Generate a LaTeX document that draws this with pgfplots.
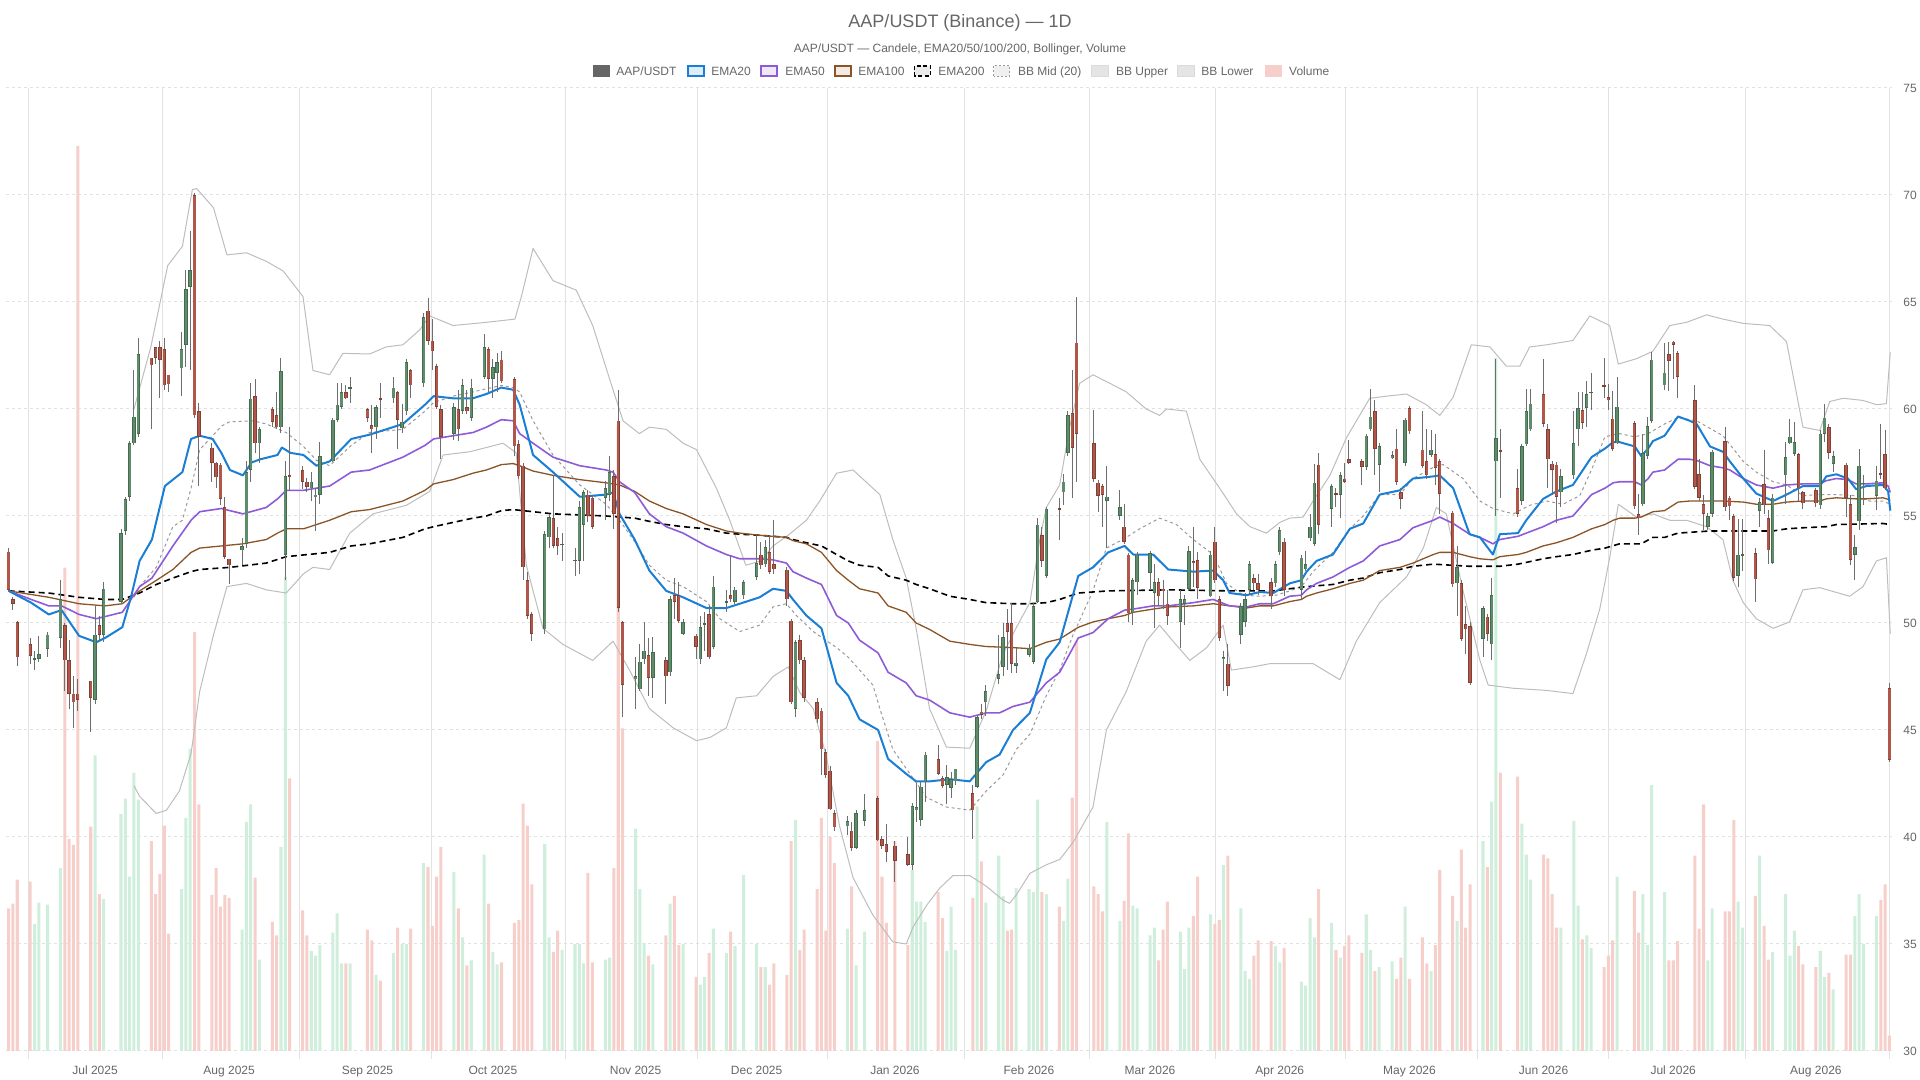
\documentclass[border=0pt]{standalone}
\usepackage{pgfplots}
\pgfplotsset{compat=1.18}
\usepackage{pgfplotstable}
\usepackage{fontspec}
\setmainfont{Liberation Sans}

\definecolor{txt}{HTML}{666666}
\definecolor{gridc}{HTML}{E2E2E2}
\definecolor{upfill}{HTML}{5F8D6B}
\definecolor{upline}{HTML}{436B4E}
\definecolor{dnfill}{HTML}{B0574A}
\definecolor{dnline}{HTML}{823F35}
\definecolor{wick}{HTML}{6E6E6E}
\definecolor{volg}{HTML}{CFEEDC}
\definecolor{volr}{HTML}{F6CFCA}
\definecolor{ema20}{HTML}{1A7FD4}
\definecolor{ema50}{HTML}{8E5BD8}
\definecolor{ema100}{HTML}{8B5426}
\definecolor{bbc}{HTML}{BDBDBD}
\definecolor{bbmid}{HTML}{999999}

\pgfplotstableread{
d o h l c v
-20 53.33 53.5 51.5 51.54 14.8
-19 51.1 51.2 50.6 50.9 15.3
-18 50.05 50.1 47.97 48.4 17.8
-15 49.0 49.3 48.1 48.47 17.6
-14 48.3 48.7 47.8 48.35 13.2
-13 48.33 49.4 48.2 48.55 15.4
-11 48.8 49.6 48.4 49.45 15.2
-8 49.3 52.0 48.85 51.1 19.0
-7 49.9 50.0 46.8 48.26 50.2
-6 48.26 49.2 46.0 46.7 22.0
-5 46.7 47.5 45.1 46.3 21.4
-4 46.7 47.4 45.9 46.4 94.0
-1 47.3 47.3 44.9 46.5 23.3
0 46.4 50.8 46.2 49.45 30.7
1 49.9 50.35 49.2 49.45 16.3
2 49.45 51.9 49.1 51.6 15.8
6 51.0 54.4 50.9 54.2 24.6
7 54.3 55.9 54.1 55.8 26.2
8 55.9 58.5 55.7 58.4 18.1
9 58.4 61.8 58.3 59.65 28.9
10 58.85 63.3 58.7 62.57 26.1
13 62.4 62.4 59.05 62.05 21.8
14 62.9 62.9 62.1 62.4 16.3
15 62.9 63.2 60.5 62.3 18.4
16 62.8 63.3 60.9 61.1 23.4
17 61.6 61.6 60.8 61.15 12.2
20 61.9 63.6 60.6 62.8 16.8
21 63.0 66.5 61.97 65.6 24.2
22 65.7 68.3 61.8 66.5 31.4
23 70.0 70.1 59.6 59.7 43.5
24 59.9 60.3 56.4 58.7 25.6
27 58.2 58.4 56.6 57.5 16.2
28 57.5 57.5 56.3 56.8 19.0
29 57.4 57.5 55.5 55.8 15.0
30 55.4 55.9 53.0 53.1 16.2
31 53.0 53.0 51.8 52.7 15.9
34 53.4 53.97 52.7 53.6 12.6
35 53.7 57.56 53.5 57.06 23.8
36 57.15 61.2 56.6 60.48 25.6
37 60.6 61.4 57.95 58.4 18.0
38 58.4 59.15 57.5 59.05 9.5
41 60.0 60.1 59.15 59.4 13.4
42 59.7 60.8 59.05 59.15 12.0
43 59.15 62.36 58.9 61.77 21.2
44 53.2 57.56 51.99 56.85 49.2
45 56.9 59.14 56.16 56.8 28.3
48 57.15 57.35 56.25 56.6 14.6
49 56.6 56.77 56.1 56.37 12.0
50 56.3 57.06 55.7 56.6 10.4
51 55.9 56.3 54.3 56.0 9.9
52 56.0 58.45 55.57 57.8 11.0
55 57.55 59.6 57.5 59.5 12.3
56 59.5 61.2 59.4 60.2 14.3
57 60.1 61.2 60.0 60.8 9.1
58 60.8 61.1 60.45 60.5 9.1
59 60.95 61.5 60.3 61.0 9.1
63 60.0 60.05 59.4 59.6 12.6
64 59.25 60.2 57.95 59.05 11.5
65 59.15 60.2 58.6 60.1 7.9
66 60.5 61.2 59.6 60.45 7.3
69 60.5 61.5 60.3 61.0 10.2
70 60.8 60.85 58.15 59.5 12.8
71 59.1 60.25 58.9 59.4 11.1
72 59.9 62.35 59.7 62.2 11.1
73 61.8 61.85 60.5 61.1 12.7
76 61.2 64.5 61.05 64.3 19.5
77 64.6 65.2 63.0 63.2 19.1
78 63.2 64.2 61.8 62.7 13.0
79 62.0 62.1 60.0 60.1 18.1
80 60.0 60.2 57.65 58.7 21.2
83 58.85 60.3 58.55 60.1 18.6
84 60.0 60.9 58.5 59.05 14.8
85 59.9 61.4 59.75 61.1 11.8
86 60.1 60.9 59.75 59.9 8.9
87 59.6 61.4 59.45 61.0 9.4
90 61.5 63.5 61.4 62.9 20.4
91 62.8 62.9 60.8 61.4 15.3
92 61.4 62.35 60.5 61.95 10.3
93 61.7 62.6 60.8 62.2 9.0
94 62.3 62.7 61.2 61.3 9.2
97 61.4 61.5 57.8 58.25 13.3
98 58.35 58.55 56.75 56.85 13.6
99 57.35 57.5 51.99 52.6 25.7
100 51.99 52.4 50.2 50.35 23.4
101 50.4 50.5 49.15 49.5 17.3
104 49.7 54.3 49.5 54.15 21.5
105 54.0 55.1 53.5 54.95 11.8
106 54.9 56.9 53.5 53.6 10.3
107 53.95 54.5 53.2 53.6 12.5
108 53.65 54.2 52.9 53.7 10.5
111 52.9 53.5 52.2 52.95 11.1
112 52.9 55.7 52.3 55.4 11.1
113 54.6 56.2 52.9 56.1 9.1
114 56.0 56.2 54.7 55.0 18.5
115 55.85 56.0 54.4 54.5 9.2
118 55.85 56.65 54.8 56.3 9.5
119 56.0 57.8 55.7 57.05 9.7
120 56.85 57.15 54.4 55.1 19.0
121 59.45 60.9 50.5 50.7 65.0
122 50.05 50.1 45.6 47.1 33.5
125 47.4 48.4 46.0 47.5 23.1
126 46.9 49.0 46.8 48.2 16.8
127 48.3 50.05 48.1 48.7 11.2
128 48.5 49.3 46.6 47.45 9.9
129 47.45 49.35 46.5 48.65 9.0
132 48.25 48.4 46.2 47.5 12.0
133 47.7 51.25 47.5 51.1 15.3
134 51.3 52.1 50.2 51.0 16.1
135 51.3 51.9 50.0 50.1 11.0
136 49.5 50.2 49.45 50.05 11.1
139 49.4 49.5 48.3 48.9 7.7
140 48.3 50.35 48.1 49.8 6.9
141 49.95 50.5 48.7 50.0 7.7
142 50.4 50.8 48.3 48.4 10.2
143 48.9 52.2 48.8 51.7 12.7
146 50.95 51.55 50.5 51.0 10.2
147 51.3 53.2 51.0 51.1 12.4
148 51.0 51.7 50.9 51.55 10.9
150 51.3 52.0 51.1 51.9 18.3
153 52.15 54.1 52.0 52.8 11.1
154 53.2 53.8 52.5 52.7 8.7
155 52.75 53.9 52.6 53.55 8.7
156 53.3 54.1 52.3 52.4 6.9
157 52.75 54.8 52.3 52.5 9.1
160 52.5 52.6 50.8 51.1 7.9
161 50.1 50.2 46.2 46.3 21.8
162 46.0 49.2 45.6 49.1 24.0
163 49.2 49.45 48.1 48.25 10.5
164 48.25 48.4 46.3 46.5 12.6
167 46.3 46.5 45.35 45.5 16.8
168 45.9 46.05 42.9 44.1 24.2
169 43.95 44.1 42.75 42.9 12.5
170 43.1 43.3 41.25 41.3 22.2
171 41.1 41.25 40.3 40.45 19.5
174 40.5 41.0 40.1 40.75 12.7
175 40.3 40.7 39.35 39.5 17.1
176 39.5 41.25 39.45 41.1 8.9
178 40.75 42.0 40.5 41.25 12.4
181 41.8 41.9 39.8 39.85 32.2
182 39.9 40.05 39.45 39.6 18.1
183 39.65 40.6 38.85 39.3 13.3
185 39.6 39.8 37.9 38.9 21.8
188 39.2 40.0 38.65 38.7 11.0
189 38.7 41.6 38.45 41.45 18.8
190 41.25 42.5 40.7 41.4 15.5
191 40.8 42.6 40.5 42.35 15.5
192 42.6 43.95 41.65 43.85 13.4
195 43.65 44.3 42.9 42.95 16.5
196 42.75 42.85 42.3 42.4 13.8
197 42.45 43.35 41.55 42.8 10.4
198 42.3 43.05 41.8 42.7 15.0
199 42.6 43.2 42.45 43.2 10.5
203 42.05 42.45 39.9 41.25 15.9
204 42.35 45.7 42.3 45.6 25.4
205 45.85 46.2 45.5 45.7 19.7
206 46.3 47.1 45.65 46.8 15.4
209 47.4 49.45 47.15 47.6 20.3
210 47.95 50.0 47.5 49.35 16.1
211 50.0 50.65 47.8 49.6 12.5
212 50.0 50.95 47.65 48.1 12.6
213 48.0 48.85 47.65 48.15 16.9
216 48.5 49.0 48.4 48.8 16.8
217 48.2 50.95 48.1 50.8 16.5
218 51.0 54.9 50.95 54.6 26.1
219 54.1 54.5 52.6 52.9 16.5
220 52.2 55.4 52.1 55.35 16.3
223 55.35 55.85 53.9 55.3 15.0
224 56.1 56.97 55.5 56.6 13.5
225 57.95 59.9 57.8 59.7 17.9
226 59.8 61.8 55.85 58.2 26.3
227 63.1 65.25 56.6 58.85 42.6
231 58.4 59.95 56.6 56.75 17.1
232 56.55 56.7 55.2 55.95 16.3
233 56.4 56.5 54.5 56.0 14.5
234 55.7 57.35 53.5 55.9 23.8
237 55.0 56.2 54.8 55.4 13.5
238 54.5 55.55 53.7 53.8 15.6
239 53.2 53.25 50.05 50.45 22.6
240 50.5 52.1 49.9 52.0 15.1
241 51.9 53.3 51.3 53.2 14.8
244 52.35 53.35 51.55 53.25 12.0
245 51.4 52.75 49.75 51.9 12.8
246 51.9 52.1 50.8 51.25 9.4
247 51.6 52.0 50.65 51.5 12.6
248 50.9 51.55 49.9 50.35 15.5
251 50.05 51.55 48.85 51.1 12.4
252 50.9 51.3 49.9 51.1 8.5
253 51.6 53.6 51.5 53.35 12.8
254 52.9 54.5 51.7 52.8 14.0
255 52.95 53.3 51.1 51.65 18.1
258 51.25 53.35 51.2 53.2 14.2
259 53.8 54.5 51.85 52.0 13.2
260 51.1 51.25 49.15 49.3 13.6
261 48.3 48.7 46.8 48.4 19.3
262 48.1 49.0 46.6 47.05 20.3
265 49.45 50.95 49.0 50.8 14.8
266 50.05 51.4 49.8 51.1 8.3
267 51.55 52.9 51.3 52.75 7.5
268 52.1 52.3 51.55 51.85 9.9
269 51.85 52.3 51.3 51.55 11.5
272 51.9 52.1 50.65 51.25 11.4
273 51.85 52.9 51.7 52.75 10.9
274 53.3 54.5 53.2 54.35 9.2
275 53.8 53.95 51.25 51.55 10.7
279 51.55 53.2 51.1 53.05 7.2
280 52.5 53.35 52.45 52.75 6.8
281 53.95 55.1 53.85 54.5 13.8
282 53.7 57.45 53.6 56.55 11.8
283 57.4 57.95 54.15 54.6 16.8
286 55.35 56.5 54.5 56.4 13.3
287 56.05 56.3 55.4 56.0 10.5
288 56.0 57.05 54.9 56.9 9.7
289 56.75 57.5 56.55 56.6 10.9
290 57.65 58.55 57.45 57.5 12.0
293 57.55 57.65 56.45 57.3 10.2
294 57.3 58.85 57.15 58.75 14.2
295 59.05 60.95 58.95 59.65 10.5
296 59.9 60.4 56.9 58.15 8.3
297 57.4 58.4 56.1 58.25 8.7
300 57.7 58.05 57.65 57.85 9.3
301 58.15 59.05 56.45 56.6 7.5
302 56.1 56.3 55.35 55.8 9.7
303 57.5 59.6 57.35 59.5 15.0
304 60.05 60.15 58.85 58.95 7.5
307 58.1 59.9 57.25 57.35 11.8
308 57.55 59.05 56.75 56.9 9.1
309 57.85 59.0 57.75 58.1 8.3
310 57.9 58.85 56.45 57.25 11.0
311 57.55 57.65 55.1 56.05 18.8
314 55.15 55.25 51.7 51.8 16.1
315 51.85 53.6 50.35 52.6 13.5
316 51.85 52.0 49.15 49.25 20.9
317 49.95 50.8 48.55 49.7 12.8
318 49.85 50.05 47.1 47.2 17.3
321 49.25 50.8 48.4 50.7 21.8
322 50.3 50.4 49.15 49.5 19.1
323 49.0 52.1 48.25 51.3 25.9
324 57.55 62.35 55.0 58.65 72.0
325 58.05 59.05 55.85 58.0 28.9
329 56.3 57.2 54.95 55.1 28.5
330 55.7 58.35 55.5 58.25 23.6
331 58.35 60.95 58.25 59.9 20.4
332 59.05 60.95 58.95 60.25 17.8
335 60.7 62.35 59.15 59.3 20.4
336 59.05 59.3 56.3 57.65 20.0
337 57.45 57.55 56.0 57.15 16.3
338 57.4 57.5 54.65 55.9 12.8
339 56.1 57.2 55.4 56.85 12.8
342 56.9 59.9 56.75 58.4 23.9
343 59.05 60.8 58.25 60.05 15.1
344 59.95 60.8 59.05 59.35 11.6
345 60.05 61.3 59.15 60.7 12.0
346 60.75 61.7 59.95 60.8 10.7
349 61.1 62.4 60.5 61.05 8.7
350 60.55 61.15 59.95 60.4 9.9
351 59.55 60.85 58.05 58.15 11.5
352 58.4 61.5 58.35 60.1 18.1
356 59.35 59.45 55.35 55.45 16.6
357 55.1 56.05 54.1 54.9 12.3
358 55.55 58.85 55.45 57.95 16.3
359 57.8 59.65 57.65 59.2 11.0
360 59.45 62.65 59.35 62.3 27.6
363 61.1 63.1 60.9 61.7 16.5
364 62.55 63.15 60.85 62.25 9.4
365 63.15 63.2 61.4 63.0 9.4
366 62.6 62.7 60.5 61.5 11.4
370 60.4 61.1 56.25 56.35 20.3
371 56.95 57.65 55.7 55.85 12.7
372 55.55 56.0 54.35 55.1 25.6
373 54.5 55.15 54.35 55.0 9.4
374 55.1 58.1 54.95 58.0 14.8
377 58.5 59.15 55.25 55.4 14.5
378 55.85 55.95 54.8 55.45 14.5
379 55.0 55.1 51.95 52.1 24.0
380 52.2 54.85 51.7 53.2 15.5
381 53.15 54.85 52.45 53.2 12.8
384 53.25 53.5 51.0 52.05 16.1
385 55.25 55.85 54.5 55.65 20.3
386 56.5 58.1 55.1 55.5 13.0
387 54.9 55.3 52.75 53.4 9.5
388 52.8 56.05 52.75 55.85 10.3
391 56.9 58.45 55.55 57.75 16.3
392 58.4 59.55 58.35 58.7 9.9
393 57.9 59.4 57.8 58.45 12.5
394 57.9 57.95 55.7 56.3 10.9
395 56.1 56.15 55.35 55.6 9.0
398 56.2 56.3 55.4 55.6 8.7
399 55.5 59.0 55.35 58.85 10.4
400 58.85 60.25 58.45 59.6 7.7
401 59.15 59.3 57.65 57.95 8.1
402 57.45 58.05 57.05 57.8 6.4
405 57.4 57.5 54.95 55.85 10.0
406 55.55 56.0 52.7 52.95 10.0
407 53.2 54.1 52.0 53.55 14.0
408 54.75 58.15 54.35 57.35 16.3
409 56.5 56.9 55.5 56.55 11.1
412 55.95 57.35 55.3 56.65 14.0
413 57.0 59.3 56.75 56.95 15.7
414 57.9 59.0 56.2 56.3 17.3
415 46.95 47.2 43.5 43.6 1.6
}\candles

\begin{document}
\begin{tikzpicture}[x=1pt,y=1pt]
\useasboundingbox (0,0) rectangle (960,540);
\begin{axis}[
  at={(3pt,14.5pt)}, anchor=south west,
  scale only axis, width=943pt, height=481.5pt,
  xmin=-20.6, xmax=415.6, ymin=30, ymax=75,
  axis line style={draw=none},
  /pgf/number format/assume math mode=true,
  ytick={30,35,...,75},
  ytick pos=right, yticklabel pos=right,
  major tick length=0pt,
  ymajorgrids,
  major y grid style={gridc, line width=0.5pt, dash pattern=on 1.5pt off 1.5pt},
  yticklabel style={anchor=west, inner sep=0pt, xshift=5.5pt, font=\fontsize{6}{7}\selectfont, text=txt},
  xtick={0,31,63,92,125,153,185,216,244,274,304,335,365,398},
  xticklabels={Jul 2025,Aug 2025,Sep 2025,Oct 2025,Nov 2025,Dec 2025,Jan 2026,Feb 2026,Mar 2026,Apr 2026,May 2026,Jun 2026,Jul 2026,Aug 2026},
  xtick pos=bottom,
  xticklabel style={anchor=north, inner sep=0pt, yshift=-7.2pt, font=\fontsize{6}{7}\selectfont, text=txt},
  minor xtick={-15.3,15.7,47.2,77.8,108.7,139.3,169.4,201.0,230.1,259.2,289.1,319.7,350.1,381.6,414.9},
  xminorgrids,
  minor x grid style={gridc, line width=0.5pt},
  minor x tick style={gridc, line width=0.5pt},
  minor tick length=4pt,
  xtick align=outside,
]
% volume
\addplot[ybar, bar width=0.7, bar shift=0pt, fill=volg, draw=none, restrict y to domain=0:200, forget plot]
  table[x=d, y expr={ifthenelse(\thisrow{c}<\thisrow{o},-100,30+0.45*\thisrow{v})}] {\candles};
\addplot[ybar, bar width=0.7, bar shift=0pt, fill=volr, draw=none, restrict y to domain=0:200, forget plot]
  table[x=d, y expr={ifthenelse(\thisrow{c}<\thisrow{o},30+0.45*\thisrow{v},-100)}] {\candles};
% Bollinger
\addplot[bbc, line width=0.5pt, line join=round] coordinates {
(9,42.4) (10.3,41.9) (14.15,41.1) (16.5,41.25) (19.5,42.15) (22.2,43.9) (24.2,46.8) (27.4,49.45) (30.5,51.7) (35.0,51.85) (39.6,51.55) (44.2,51.4) (48.2,52.3) (50.4,52.6) (54.25,52.5) (58.9,54.2) (64.3,55.1) (72.0,55.5) (77.4,56.15) (80.5,57.85) (86.6,58.0) (94.35,58.4) (97.4,57.95) (99.74,52.7) (103.6,49.75) (108.2,49.0) (115.1,48.25) (119.8,49.15) (123.6,47.8) (128.2,46.0) (133.7,45.1) (139.1,44.5) (142.2,44.65) (146.0,45.1) (148.3,46.5) (153.0,46.6) (156.8,47.5) (160.3,47.95) (163.0,46.75) (166.1,46.0) (169.1,43.8) (172.2,40.5) (175.3,38.1) (179.9,36.35) (184.5,35.1) (187.6,35.0) (189.2,35.8) (192.3,36.8) (195.3,37.6) (198.4,38.2) (202.3,38.2) (206.1,37.7) (210.0,37.05) (211.5,36.9) (213.1,37.3) (216.2,38.3) (220.0,38.7) (223.1,38.95) (226.2,39.75) (230.8,41.4) (233.9,45.0) (238.5,46.8) (243.1,49.15) (246.2,49.9) (249.3,49.15) (253.2,48.25) (257.1,48.85) (260.9,49.9) (262.8,47.8) (267.8,47.95) (271.7,48.1) (276.3,48.1) (281.7,48.1) (287.9,47.35) (291.7,49.15) (297.1,50.95) (303.3,52.15) (307.2,53.5) (310.2,55.4) (312.5,55.1) (316.4,51.5) (320.3,48.25) (322.2,47.1) (328.0,46.95) (335.7,46.85) (341.8,46.7) (344.9,48.55) (348.0,50.65) (350.3,53.05) (352.3,55.55) (356.5,54.95) (360.3,55.1) (364.2,54.8) (368.1,54.8) (372.7,54.5) (376.5,53.9) (378.8,51.99) (381.2,50.95) (384.2,50.2) (388.1,49.75) (391.9,50.05) (395.0,51.55) (398.9,51.65) (405.8,51.25) (408.9,51.7) (412.0,52.9) (414.3,53.05) (415.2,49.5)
};
\addplot[bbc, line width=0.5pt, line join=round] coordinates {
(9,60.0) (12.9,62.9) (16.8,66.7) (20.2,67.6) (22.5,70.25) (23.5,70.3) (27.4,69.4) (30.5,67.2) (35.0,67.3) (39.6,66.9) (43.5,66.45) (48.1,65.25) (50.4,61.8) (54.25,61.6) (57.3,62.6) (63.5,62.57) (67.35,62.9) (71.2,63.0) (75.1,63.7) (77.4,64.35) (82.8,63.9) (90.5,64.05) (97.1,64.2) (98.6,65.25) (101.3,67.5) (105.9,66.0) (111.3,65.55) (115.1,63.9) (119.0,61.4) (122.1,59.45) (125.9,58.85) (128.2,59.15) (132.1,59.05) (136.0,58.4) (139.1,58.1) (143.7,56.3) (146.8,54.8) (150.5,52.7) (154.0,52.9) (156.8,53.6) (160.3,54.1) (164.5,54.8) (167.6,55.7) (171.5,57.0) (175.3,57.15) (181.5,56.0) (184.5,53.9) (187.6,52.1) (189.9,49.75) (193.0,46.0) (196.9,44.2) (202.3,44.15) (206.1,45.9) (210.0,48.55) (213.1,49.8) (216.2,50.95) (218.5,53.9) (220.0,55.4) (223.1,56.45) (225.4,59.15) (227.7,61.2) (230.8,61.6) (234.7,61.2) (238.5,60.8) (243.1,60.0) (246.2,59.7) (247.8,60.0) (252.4,59.9) (255.5,57.65) (260.1,56.3) (264.0,55.1) (267.1,54.5) (270.9,54.2) (274.0,54.7) (276.3,54.9) (279.4,54.95) (281.7,55.7) (285.6,56.9) (289.4,58.65) (294.8,60.5) (298.7,60.6) (303.3,60.7) (307.9,60.2) (311.0,59.7) (314.1,60.55) (318.3,63.0) (322.6,62.9) (326.4,62.0) (329.5,62.0) (331.8,62.9) (335.7,63.0) (341.8,63.2) (345.7,64.35) (350.3,63.9) (352.3,62.1) (356.5,62.35) (360.3,62.7) (364.2,63.9) (368.1,64.05) (372.7,64.4) (376.5,64.2) (381.2,64.0) (387.3,63.9) (391.2,63.15) (395.0,59.15) (398.9,59.0) (401.2,60.35) (404.3,60.5) (408.9,60.4) (412.0,60.2) (414.3,60.25) (415.2,62.65)
};
\addplot[bbmid, line width=0.5pt, dash pattern=on 1.5pt off 1.5pt] coordinates {
(9,51.2) (10.3,51.7) (14.15,52.6) (18.0,54.5) (20.2,54.8) (22.2,56.3) (24.2,58.1) (27.2,58.75) (29.2,59.2) (31.1,59.4) (36.5,59.45) (39.6,59.3) (44.2,58.9) (48.2,58.25) (51.2,57.6) (54.25,57.35) (59.25,58.3) (63.5,58.9) (71.2,59.05) (76.3,59.9) (78.3,60.3) (82.8,60.6) (87.4,60.8) (93.95,61.1) (96.7,61.0) (98.2,60.8) (101.3,59.45) (105.9,57.85) (112.1,56.45) (118.2,55.55) (121.3,54.8) (124.8,53.8) (128.2,52.7) (132.1,52.0) (136.0,51.7) (141.4,51.0) (144.5,50.2) (149.1,49.6) (153.7,49.9) (156.8,50.75) (159.9,50.9) (162.2,50.35) (166.1,49.6) (171.5,48.85) (174.2,48.4) (179.9,47.1) (181.5,46.0) (184.5,44.1) (187.6,43.2) (192.3,41.85) (196.9,41.4) (202.3,41.25) (206.1,42.15) (210.0,42.9) (213.1,44.1) (216.2,44.8) (220.0,46.6) (223.1,47.8) (226.2,49.45) (230.8,51.5) (233.9,53.5) (237.7,53.9) (241.6,54.4) (246.2,54.9) (250.1,54.6) (254.0,53.9) (258.6,53.2) (261.7,51.85) (265.5,51.3) (269.4,51.25) (273.2,51.3) (276.3,51.5) (279.0,51.7) (281.7,52.4) (286.3,53.3) (290.2,54.4) (293.3,55.0) (297.1,56.0) (301.8,56.0) (304.8,56.75) (310.2,57.35) (311.8,57.4) (316.4,56.75) (320.3,55.7) (323.3,55.35) (328.0,55.1) (331.8,55.5) (335.7,55.7) (339.5,55.55) (343.4,55.95) (346.4,57.3) (349.2,58.7) (352.6,58.85) (356.1,58.7) (359.2,58.85) (363.0,59.3) (366.1,59.6) (370.4,59.45) (376.5,58.75) (381.2,57.55) (384.2,57.05) (388.1,56.6) (391.2,56.45) (395.0,55.95) (398.9,56.0) (402.7,56.0) (407.3,55.95) (410.4,55.7) (413.5,55.7) (415.2,55.55)
};
% EMA200
\addplot[black, line width=0.8pt, dash pattern=on 3pt off 2pt] coordinates {
(-20,51.5) (-10.7,51.4) (-3.7,51.2) (2.3,51.1) (6.3,51.1) (10.3,51.4) (14.15,51.8) (18.0,52.1) (22.2,52.4) (24.2,52.5) (31.2,52.6) (39.6,52.8) (44.2,53.1) (54.25,53.3) (59.25,53.6) (63.5,53.7) (71.2,54.0) (76.3,54.4) (78.3,54.5) (82.8,54.7) (87.4,54.9) (90.5,55.0) (93.95,55.25) (96.7,55.3) (101.3,55.2) (105.9,55.1) (112.1,55.05) (118.2,55.0) (124.8,54.9) (128.2,54.75) (132.1,54.6) (136.0,54.5) (141.4,54.4) (146.0,54.2) (149.1,54.15) (153.7,54.1) (156.8,54.05) (159.9,54.0) (161.4,53.9) (164.5,53.75) (168.0,53.6) (171.5,53.2) (174.2,52.9) (176.8,52.7) (181.1,52.6) (183.4,52.2) (187.6,52.0) (189.9,51.8) (193.0,51.6) (197.7,51.25) (202.3,51.1) (206.1,50.95) (212.3,50.9) (216.2,50.9) (220.0,50.95) (223.1,51.1) (227.4,51.4) (234.3,51.5) (248.2,51.55) (262.4,51.5) (272.5,51.5) (276.3,51.6) (280.2,51.7) (286.3,51.8) (290.2,52.0) (293.3,52.1) (297.1,52.35) (301.8,52.5) (304.8,52.65) (309.5,52.75) (317.9,52.65) (324.9,52.65) (329.1,52.75) (334.9,53.0) (338.0,53.1) (341.8,53.2) (346.1,53.4) (349.2,53.5) (352.6,53.7) (357.6,53.7) (360.3,54.0) (363.0,54.0) (366.1,54.2) (373.5,54.3) (388.1,54.3) (391.2,54.4) (395.0,54.45) (400.4,54.5) (402.7,54.6) (413.5,54.65) (415.2,54.6)
};
% EMA100
\addplot[ema100, line width=0.65pt, line join=round] coordinates {
(-20,51.5) (-10.7,51.2) (-3.7,50.9) (2.3,50.8) (6.3,50.9) (10.3,51.5) (14.15,51.99) (18.0,52.5) (22.2,53.3) (24.2,53.5) (29.2,53.6) (34.2,53.7) (39.6,53.9) (42.2,54.2) (44.2,54.4) (48.2,54.4) (54.25,54.8) (59.25,55.2) (63.5,55.3) (71.2,55.7) (76.3,56.2) (78.3,56.5) (82.8,56.7) (87.4,57.0) (90.5,57.15) (93.95,57.4) (96.7,57.45) (98.2,57.35) (101.3,57.1) (105.9,56.9) (112.1,56.7) (118.2,56.55) (121.3,56.45) (124.8,56.15) (128.2,55.7) (132.1,55.35) (136.0,55.1) (141.4,54.6) (146.0,54.3) (149.1,54.2) (153.7,54.1) (156.8,54.05) (159.9,54.0) (161.4,53.85) (164.5,53.7) (168.0,53.3) (171.5,52.45) (174.2,52.0) (176.8,51.6) (181.1,51.4) (183.4,50.8) (187.6,50.5) (189.9,50.0) (193.0,49.7) (197.7,49.15) (202.3,49.0) (206.1,48.9) (212.3,48.85) (216.2,48.8) (220.0,49.1) (223.1,49.25) (227.4,49.8) (230.8,50.05) (234.3,50.2) (238.1,50.35) (240.1,50.5) (244.7,50.65) (248.2,50.75) (254.0,50.8) (258.6,50.9) (262.4,50.8) (266.3,50.7) (269.4,50.8) (272.5,50.8) (276.3,51.0) (279.0,51.1) (280.2,51.25) (282.5,51.4) (286.3,51.6) (290.2,51.85) (293.3,52.0) (297.1,52.45) (301.8,52.6) (304.8,52.8) (309.5,53.2) (311.0,53.3) (314.1,53.3) (317.9,53.1) (320.3,53.0) (323.3,52.95) (324.9,53.1) (329.1,53.2) (331.0,53.3) (334.9,53.6) (338.0,53.75) (341.8,54.0) (346.1,54.4) (349.2,54.6) (351.1,54.8) (352.6,54.9) (356.1,54.9) (357.6,54.95) (359.2,55.1) (360.3,55.2) (363.0,55.25) (366.1,55.65) (368.8,55.7) (376.5,55.7) (381.2,55.65) (384.2,55.55) (388.1,55.55) (391.2,55.65) (395.0,55.7) (398.9,55.7) (400.4,55.8) (402.7,55.85) (407.3,55.8) (409.7,55.8) (413.5,55.85) (415.2,55.75)
};
% EMA50
\addplot[ema50, line width=0.8pt, line join=round] coordinates {
(-20,51.5) (-14.8,51.1) (-10.7,50.8) (-7.75,50.8) (-3.7,50.4) (0.3,50.2) (2.3,50.3) (6.3,50.5) (10.3,51.7) (13.15,52.1) (18.0,53.6) (22.2,54.8) (24.2,55.2) (29.2,55.35) (34.2,55.1) (39.6,55.4) (42.2,55.8) (44.2,56.2) (48.2,56.2) (54.25,56.4) (59.25,57.05) (63.5,57.15) (71.2,57.75) (76.3,58.3) (78.3,58.6) (82.8,58.75) (87.4,58.9) (90.5,59.15) (93.95,59.5) (96.7,59.45) (98.2,58.85) (101.3,58.4) (105.9,57.75) (112.1,57.35) (118.2,57.15) (119.8,57.05) (121.3,56.6) (124.8,56.1) (128.2,55.1) (132.1,54.5) (136.0,54.2) (141.4,53.6) (146.0,53.2) (149.1,53.0) (153.7,53.0) (156.8,52.95) (159.9,52.8) (161.4,52.4) (164.5,52.1) (168.0,51.8) (171.5,50.35) (174.2,50.0) (176.8,49.2) (181.1,48.6) (183.4,47.7) (187.6,47.2) (189.9,46.6) (193.0,46.4) (197.7,45.8) (202.3,45.6) (206.1,45.8) (209.2,45.8) (212.3,46.1) (216.2,46.3) (220.0,47.2) (223.1,47.7) (227.4,49.3) (230.8,49.55) (234.3,50.2) (238.1,50.6) (240.1,50.65) (244.7,50.8) (248.2,50.8) (254.0,50.95) (258.6,51.1) (262.4,50.8) (266.3,50.75) (269.4,50.9) (272.5,50.9) (276.3,51.25) (279.0,51.3) (280.2,51.55) (282.5,51.85) (286.3,52.15) (290.2,52.6) (293.3,52.9) (297.1,53.6) (301.8,53.9) (304.8,54.45) (309.5,54.8) (311.0,54.95) (314.1,54.65) (317.9,54.15) (320.3,54.0) (323.3,53.7) (324.9,53.9) (329.1,54.05) (331.0,54.2) (334.9,54.5) (338.0,54.8) (341.8,55.0) (346.1,56.0) (349.2,56.3) (351.1,56.55) (352.6,56.6) (356.1,56.6) (357.6,56.45) (359.2,56.75) (360.3,57.05) (363.0,57.15) (366.1,57.65) (368.8,57.65) (370.4,57.6) (373.5,57.35) (376.5,57.25) (378.1,57.15) (381.2,56.75) (384.2,56.45) (388.1,56.3) (391.2,56.45) (395.0,56.5) (398.9,56.5) (400.4,56.65) (402.7,56.75) (405.4,56.7) (407.3,56.5) (409.7,56.5) (413.5,56.55) (414.7,56.4) (415.2,56.1)
};
% EMA20
\addplot[ema20, line width=1pt, line join=round] coordinates {
(-20,51.5) (-14.8,50.95) (-10.7,50.4) (-7.75,50.6) (-3.7,49.4) (0.3,49.1) (2.3,49.3) (6.3,49.8) (8.3,51.2) (10.3,52.9) (13.15,53.9) (16.15,56.4) (20.2,57.05) (22.2,58.6) (24.2,58.75) (27.2,58.6) (29.2,57.95) (31.2,57.15) (34.2,56.9) (36.2,57.5) (38.2,57.65) (42.2,57.85) (43.2,58.2) (45.2,57.95) (48.2,57.85) (51.2,57.35) (54.25,57.55) (59.25,58.6) (63.5,58.8) (71.2,59.3) (76.3,60.2) (78.3,60.6) (82.8,60.5) (87.4,60.5) (90.5,60.7) (93.95,61.0) (96.7,60.9) (98.2,60.2) (101.3,57.85) (105.9,57.05) (112.1,55.9) (118.2,56.0) (119.8,56.1) (121.3,55.1) (124.8,53.9) (128.2,52.45) (132.1,51.5) (136.0,51.2) (141.4,50.7) (146.0,50.7) (149.1,50.9) (153.7,51.2) (156.8,51.6) (159.9,51.5) (161.4,51.1) (164.5,50.35) (168.0,49.75) (171.5,47.2) (174.2,46.6) (176.8,45.5) (181.1,45.0) (183.4,43.65) (187.6,42.95) (189.9,42.6) (193.0,42.6) (197.7,42.7) (202.3,42.6) (206.1,43.5) (209.2,43.85) (212.3,45.0) (216.2,45.8) (220.0,48.3) (223.1,49.1) (227.4,52.2) (230.8,52.6) (234.3,53.3) (238.1,53.6) (240.1,53.2) (244.7,53.2) (248.2,52.5) (254.0,52.4) (258.6,52.45) (260.9,52.0) (262.4,51.4) (266.3,51.3) (269.4,51.45) (272.5,51.4) (276.3,51.85) (279.0,52.0) (280.2,52.4) (282.5,52.9) (286.3,53.2) (290.2,54.4) (293.3,54.65) (297.1,56.0) (301.8,56.2) (304.8,56.75) (309.5,56.85) (311.0,56.9) (314.1,56.3) (317.9,54.15) (320.3,54.0) (323.3,53.2) (324.9,54.15) (329.1,54.2) (331.0,54.8) (334.9,55.8) (338.0,56.15) (341.8,56.45) (346.1,57.75) (349.2,58.15) (351.1,58.45) (352.6,58.45) (356.1,58.25) (357.6,57.8) (359.2,58.15) (360.3,58.5) (363.0,58.75) (366.1,59.65) (368.8,59.45) (370.4,59.3) (373.5,58.25) (376.5,58.0) (378.1,57.55) (381.2,56.75) (384.2,56.05) (388.1,55.7) (391.2,56.0) (395.0,56.4) (398.9,56.4) (400.4,56.85) (402.7,56.95) (405.4,56.75) (407.3,56.25) (409.7,56.4) (413.5,56.45) (414.7,56.15) (415.2,55.25)
};
% wicks
\addplot[draw=none, mark=none, forget plot, error bars/.cd, y dir=both, y explicit, error mark=none,
  error bar style={draw=wick, line width=0.5pt, solid}]
  table[x=d, y expr={(\thisrow{h}+\thisrow{l})/2}, y error expr={(\thisrow{h}-\thisrow{l})/2}] {\candles};
% up bodies
\addplot[draw=none, mark=none, forget plot, restrict y to domain=0:200, error bars/.cd, y dir=both, y explicit, error mark=none,
  error bar style={draw=upline, line width=1.7pt, solid, line cap=butt}]
  table[x=d, y expr={ifthenelse(\thisrow{c}<\thisrow{o},-100,(\thisrow{o}+\thisrow{c})/2)}, y error expr={max(abs(\thisrow{c}-\thisrow{o})/2,0.04)}] {\candles};
\addplot[draw=none, mark=none, forget plot, restrict y to domain=0:200, error bars/.cd, y dir=both, y explicit, error mark=none,
  error bar style={draw=upfill, line width=1.1pt, solid, line cap=butt}]
  table[x=d, y expr={ifthenelse(\thisrow{c}<\thisrow{o},-100,(\thisrow{o}+\thisrow{c})/2)}, y error expr={max(abs(\thisrow{c}-\thisrow{o})/2-0.03,0)}] {\candles};
% down bodies
\addplot[draw=none, mark=none, forget plot, restrict y to domain=0:200, error bars/.cd, y dir=both, y explicit, error mark=none,
  error bar style={draw=dnline, line width=1.7pt, solid, line cap=butt}]
  table[x=d, y expr={ifthenelse(\thisrow{c}<\thisrow{o},(\thisrow{o}+\thisrow{c})/2,-100)}, y error expr={max(abs(\thisrow{c}-\thisrow{o})/2,0.04)}] {\candles};
\addplot[draw=none, mark=none, forget plot, restrict y to domain=0:200, error bars/.cd, y dir=both, y explicit, error mark=none,
  error bar style={draw=dnfill, line width=1.1pt, solid, line cap=butt}]
  table[x=d, y expr={ifthenelse(\thisrow{c}<\thisrow{o},(\thisrow{o}+\thisrow{c})/2,-100)}, y error expr={max(abs(\thisrow{c}-\thisrow{o})/2-0.03,0)}] {\candles};
\end{axis}

% titles
\node[anchor=base, text=txt, font=\fontsize{9}{11}\selectfont, inner sep=0pt] at (480,526.4) {AAP/USDT (Binance) — 1D};
\node[anchor=base, text=txt, font=\fontsize{6}{7}\selectfont, inner sep=0pt] at (480,513.9) {AAP/USDT — Candele, EMA20/50/100/200, Bollinger, Volume};

% legend
\tikzset{lt/.style={anchor=base west, inner sep=0pt, text=txt, font=\fontsize{6}{7}\selectfont}}
\def\lb{502.35}
\fill[txt] (296.4,501.5) rectangle (304.9,507.5);
\node[lt] at (308.0,\lb) {AAP/USDT};
\filldraw[fill=ema20!15, draw=ema20, line width=0.9pt] (343.9,501.9) rectangle (351.9,507.1);
\node[lt] at (355.5,\lb) {EMA20};
\filldraw[fill=ema50!15, draw=ema50, line width=0.9pt] (380.6,501.9) rectangle (388.6,507.1);
\node[lt] at (392.5,\lb) {EMA50};
\filldraw[fill=ema100!12, draw=ema100, line width=0.8pt] (417.4,501.9) rectangle (425.4,507.1);
\node[lt] at (429.0,\lb) {EMA100};
\filldraw[fill=black!8, draw=black, line width=0.9pt, dash pattern=on 2pt off 1.2pt] (457.2,501.9) rectangle (465.2,507.1);
\node[lt] at (469.0,\lb) {EMA200};
\filldraw[fill=black!6, draw=bbmid, line width=0.5pt, dash pattern=on 1pt off 1pt] (496.9,501.9) rectangle (504.9,507.1);
\node[lt] at (508.8,\lb) {BB Mid (20)};
\filldraw[fill=black!10, draw=black!14, line width=0.5pt] (545.7,501.7) rectangle (554.0,507.3);
\node[lt] at (557.8,\lb) {BB Upper};
\filldraw[fill=black!10, draw=black!14, line width=0.5pt] (588.7,501.7) rectangle (597.0,507.3);
\node[lt] at (600.5,\lb) {BB Lower};
\fill[volr] (632.5,501.5) rectangle (641.0,507.5);
\node[lt] at (644.4,\lb) {Volume};
\end{tikzpicture}
\end{document}
